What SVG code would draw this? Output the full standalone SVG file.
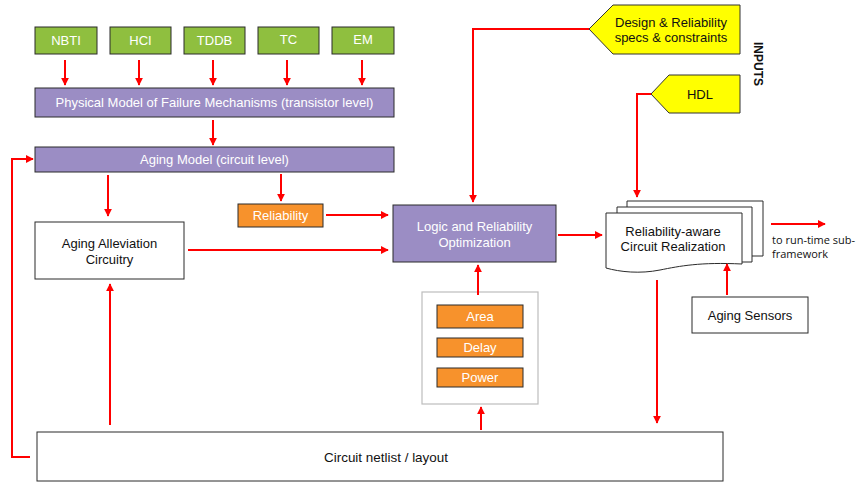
<svg xmlns="http://www.w3.org/2000/svg" width="857" height="483" viewBox="0 0 857 483">
<defs>
<marker id="ah" viewBox="0 0 10 10" refX="9" refY="5" markerWidth="4" markerHeight="4" orient="auto" markerUnits="strokeWidth"><path d="M0,0 L10,5 L0,10 z" fill="#ff0000"/></marker>
<style>
text{font-family:"Liberation Sans",Arial,sans-serif;font-size:13px;text-anchor:middle}
.g rect{fill:#8fbf3f;stroke:#2b2b2b;stroke-width:1}
.p rect{fill:#9b8dc4;stroke:#2b2b2b;stroke-width:1}
.o rect{fill:#f7922c;stroke:#2b2b2b;stroke-width:1}
.w rect{fill:#fff;stroke:#2b2b2b;stroke-width:1}
.wt{fill:#fff}
.bt{fill:#111}
.c line,.c polyline{stroke:#ff0000;stroke-width:2;fill:none}
.a{marker-end:url(#ah)}
.y polygon{fill:#ffff00;stroke:#333;stroke-width:1}
</style>
</defs>
<rect width="857" height="483" fill="#fff"/>
<g id="nbti" class="g"><rect x="35" y="27" width="62" height="27"/><text class="wt" x="66" y="45">NBTI</text></g>
<g id="hci" class="g"><rect x="110" y="27" width="61" height="27"/><text class="wt" x="140.5" y="45">HCI</text></g>
<g id="tddb" class="g"><rect x="184" y="27" width="61" height="27"/><text class="wt" x="214.5" y="45">TDDB</text></g>
<g id="tc" class="g"><rect x="258" y="27" width="61" height="27"/><text class="wt" x="288.5" y="44">TC</text></g>
<g id="em" class="g"><rect x="332" y="27" width="62" height="27"/><text class="wt" x="363" y="44">EM</text></g>
<g id="physical" class="p"><rect x="35" y="88" width="359" height="29"/><text class="wt" x="214.5" y="107">Physical Model of Failure Mechanisms (transistor level)</text></g>
<g id="aging" class="p"><rect x="35" y="147" width="359" height="25"/><text class="wt" x="214.5" y="164">Aging Model (circuit level)</text></g>
<g id="alleviation" class="w"><rect x="35" y="222" width="149" height="57"/><text class="bt" x="109.5" y="248">Aging Alleviation</text><text class="bt" x="109.5" y="264">Circuitry</text></g>
<g id="reliability" class="o"><rect x="238" y="204" width="85" height="23"/><text class="wt" x="280.5" y="220">Reliability</text></g>
<g id="logic" class="p"><rect x="393" y="205" width="163" height="57"/><text class="wt" x="474.5" y="231">Logic and Reliability</text><text class="wt" x="474.5" y="247">Optimization</text></g>
<g id="realization">
<path d="M627,201 H763 V256 H627 Z" fill="#fff" stroke="#2b2b2b" stroke-width="1"/>
<path d="M617,207 H752 V262 H617 Z" fill="#fff" stroke="#2b2b2b" stroke-width="1"/>
<path d="M606,213 H742 V264 C700,262 680,266 660,270 C640,274 620,272 606,268 Z" fill="#fff" stroke="#2b2b2b" stroke-width="1"/>
<text class="bt" x="673" y="236">Reliability-aware</text><text class="bt" x="673" y="251">Circuit Realization</text>
</g>
<g id="sensors" class="w"><rect x="692" y="297" width="116" height="36"/><text class="bt" x="750" y="320">Aging Sensors</text></g>
<g id="metrics">
<rect x="422" y="292" width="116" height="112" fill="#fff" stroke="#bdbdbd" stroke-width="1.2"/>
<g class="o"><rect x="437" y="305" width="86" height="23"/><text class="wt" x="480" y="321">Area</text></g>
<g class="o"><rect x="437" y="338" width="86" height="19"/><text class="wt" x="480" y="352">Delay</text></g>
<g class="o"><rect x="437" y="368" width="86" height="19"/><text class="wt" x="480" y="382">Power</text></g>
</g>
<g id="netlist" class="w"><rect x="37" y="432" width="686" height="49"/><text class="bt" x="386" y="462" textLength="124" lengthAdjust="spacingAndGlyphs">Circuit netlist / layout</text></g>
<g id="design" class="y"><polygon points="589,29 613,5 740,5 740,54 613,54"/><text class="bt" x="671" y="27">Design &amp; Reliability</text><text class="bt" x="671" y="42">specs &amp; constraints</text></g>
<g id="hdl" class="y"><polygon points="651,94 669,75 740,75 740,113 669,113"/><text class="bt" x="700" y="99">HDL</text></g>
<text x="0" y="0" transform="translate(754,64) rotate(90)" style="font-weight:bold;font-size:12px;fill:#111">INPUTS</text>
<text x="772" y="244" style="font-family:'Open Sans',sans-serif;font-size:11px;text-anchor:start;fill:#111">to run-time sub-</text>
<text x="772" y="258" style="font-family:'Open Sans',sans-serif;font-size:11px;text-anchor:start;fill:#111">framework</text>
<g id="connectors" class="c">
<line class="a" x1="65" y1="60" x2="65" y2="85"/>
<line class="a" x1="139" y1="60" x2="139" y2="85"/>
<line class="a" x1="213" y1="60" x2="213" y2="85"/>
<line class="a" x1="287" y1="60" x2="287" y2="85"/>
<line class="a" x1="362" y1="60" x2="362" y2="85"/>
<line class="a" x1="213" y1="120" x2="213" y2="145"/>
<line class="a" x1="108" y1="175" x2="108" y2="216"/>
<line class="a" x1="281" y1="174" x2="281" y2="201"/>
<line class="a" x1="326" y1="215" x2="388" y2="215"/>
<line class="a" x1="188" y1="250" x2="388" y2="250"/>
<line class="a" x1="558" y1="235" x2="602" y2="235"/>
<line class="a" x1="771" y1="224" x2="825" y2="224"/>
<line class="a" x1="727" y1="295" x2="727" y2="264"/>
<line class="a" x1="657" y1="280" x2="657" y2="423"/>
<line class="a" x1="478" y1="295" x2="478" y2="265"/>
<line class="a" x1="481" y1="430" x2="481" y2="407"/>
<line class="a" x1="110" y1="425" x2="110" y2="284"/>
<polyline class="a" points="30,457 12,457 12,159 33,159"/>
<polyline class="a" points="589,29 473,29 473,202"/>
<polyline class="a" points="651,94 637,94 637,197"/>
</g>
</svg>
